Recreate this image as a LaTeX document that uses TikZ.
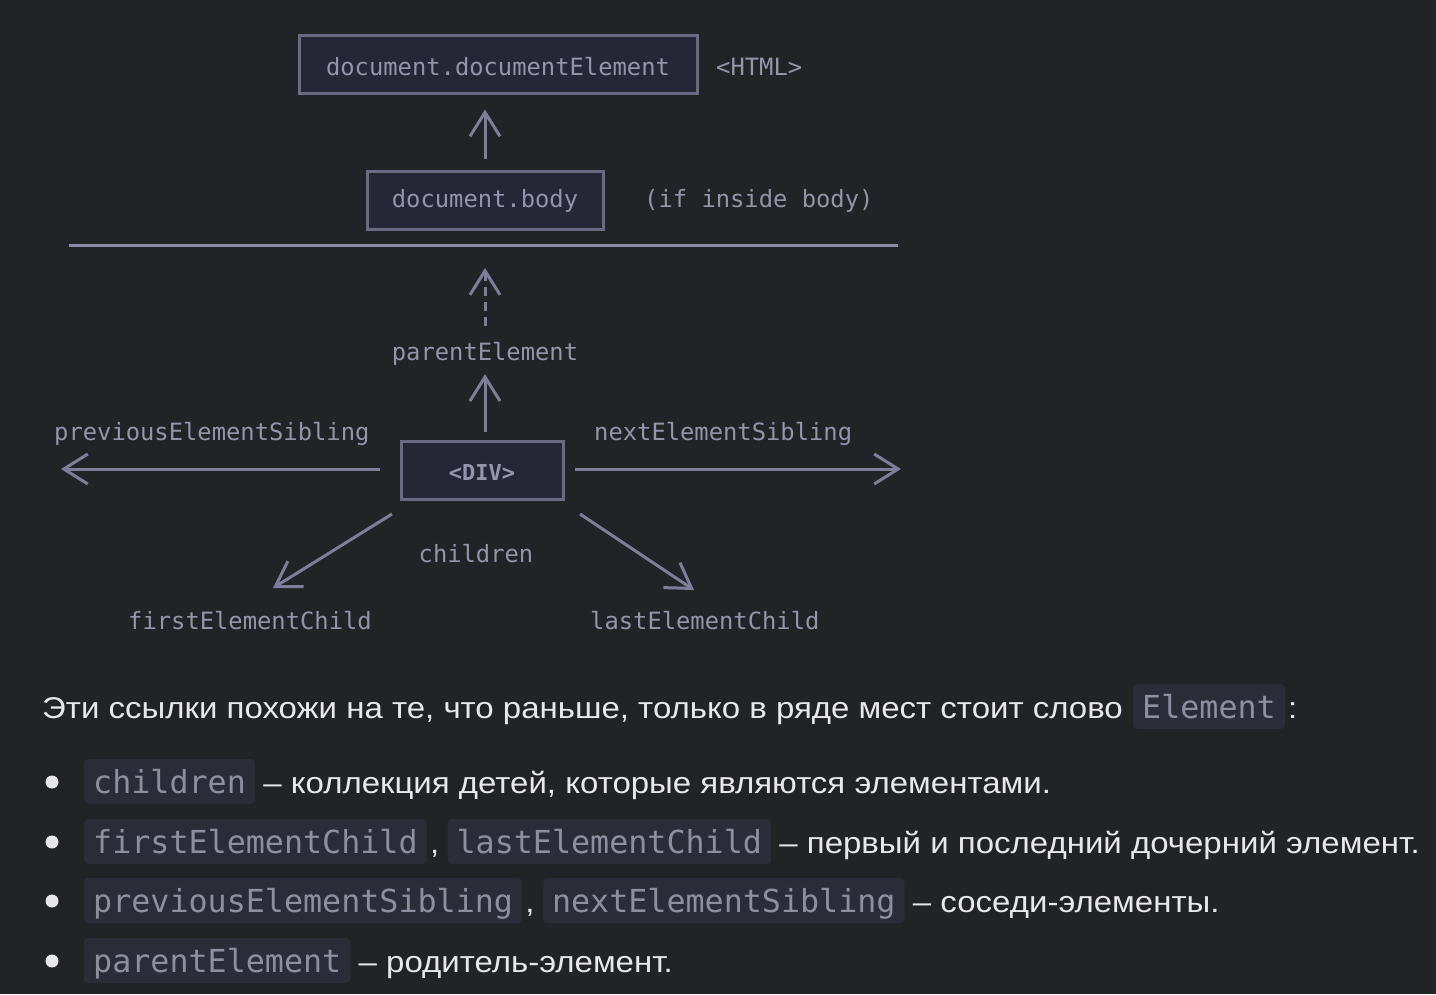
\documentclass[tikz,border=0pt]{standalone}
\usepackage{fontspec}
\setmainfont[FakeStretch=1.1]{Liberation Sans}
\newfontfamily\mono{DejaVu Sans Mono}
\usetikzlibrary{arrows.meta}
\definecolor{bg}{HTML}{222327}
\definecolor{boxfill}{HTML}{262736}
\definecolor{boxline}{HTML}{6A6A85}
\definecolor{arrowc}{HTML}{7E7E9C}
\definecolor{rulec}{HTML}{8A8AA6}
\definecolor{diagtext}{HTML}{9494AA}
\definecolor{maintext}{HTML}{E8E8EC}
\definecolor{codebg}{HTML}{2B2C38}
\definecolor{codefg}{HTML}{8E8E9E}
\tikzset{
  dbox/.style={draw=boxline, fill=boxfill, line width=3pt, inner sep=0pt, text=diagtext,
    font=\mono\fontsize{23.8}{28}\selectfont},
  dlabel/.style={inner sep=0pt, text=diagtext, font=\mono\fontsize{23.8}{28}\selectfont},
  darrow/.style={draw=arrowc, line width=3pt, -{Straight Barb[length=24pt,width=30pt,line width=3pt]}},
  codebox/.style={fill=codebg, rounded corners=4pt, inner xsep=9pt, inner ysep=0pt,
    text height=34pt, text depth=11pt, text=codefg, font=\mono\fontsize{31.7}{38}\selectfont},
  ptext/.style={inner sep=0pt, text=maintext, font=\fontsize{30}{36}\selectfont},
  bulletdot/.style={circle, fill=maintext, inner sep=0pt, minimum size=13pt}
}
\begin{document}
\begin{tikzpicture}[x=1pt,y=-1pt]
\fill[bg] (0,0) rectangle (1436,994);
\useasboundingbox (0,0) rectangle (1436,994);

% top part
\node[dbox, minimum width=398pt, minimum height=58pt, text height=22pt, text depth=0pt] (de) at (498,64) {document.documentElement};
\node[dlabel, anchor=base west] (html) at (716,75) {<HTML>};
\node[dbox, minimum width=236pt, minimum height=58pt, text height=14pt, text depth=0pt] (body) at (485,200) {document.body};
\node[dlabel, anchor=base west] (ifin) at (644,207) {(if inside body)};
\draw[darrow] ([yshift=11pt]body.north) -- ([yshift=-15pt]body.north |- de.south);

\coordinate (rl) at (69,245);
\coordinate (rr) at (898,245);
\draw[rulec, line width=3pt] (rl) -- (rr);

% DIV and neighbours
\node[dbox, minimum width=162pt, minimum height=58pt, text height=20pt, text depth=0pt,
  font=\mono\bfseries\fontsize{22}{26}\selectfont] (div) at (482,470) {<DIV>};
\node[dlabel, anchor=base] (pe) at (485,360) {parentElement};
\node[dlabel, anchor=base west] (prev) at (54,440) {previousElementSibling};
\node[dlabel, anchor=base west] (next) at (594,440) {nextElementSibling};
\node[dlabel, anchor=base] (ch) at (476,562) {children};
\node[dlabel, anchor=base west] (first) at (128,629) {firstElementChild};
\node[dlabel, anchor=base west] (last) at (590,629) {lastElementChild};

\coordinate (pes) at (485,326);
\coordinate (pee) at (485,268);
\draw[darrow, dash pattern=on 9pt off 6pt] (pes) -- (pee);
\draw[darrow] ([yshift=8pt]pe.south |- div.north) -- ([yshift=-9pt]pe.south);
\coordinate (ls) at (380,469);
\coordinate (le) at (61,469);
\draw[darrow] (ls) -- (le);
\coordinate (rs) at (575,469);
\coordinate (re) at (901,469);
\draw[darrow] (rs) -- (re);
\coordinate (dls) at (392,514);
\coordinate (dle) at (273,588);
\draw[darrow] (dls) -- (dle);
\coordinate (drs) at (580,514);
\coordinate (dre) at (694,590);
\draw[darrow] (drs) -- (dre);

% text below
\node[ptext, anchor=base west] (t0) at (42,718) {Эти ссылки похожи на те, что раньше, только в ряде мест стоит слово};
\node[codebox, anchor=base west] (c0) at ([xshift=10pt]t0.base east) {Element};
\node[ptext, anchor=base west] (t0b) at ([xshift=3pt]c0.base east) {:};

\node[bulletdot] (b1) at (52,782) {};
\node[codebox, anchor=base west] (c1) at (84,793) {children};
\node[ptext, anchor=base west] (t1) at ([xshift=8pt]c1.base east) {– коллекция детей, которые являются элементами.};

\node[bulletdot] (b2) at (52,842) {};
\node[codebox, anchor=base west] (c2a) at (84,853) {firstElementChild};
\node[ptext, anchor=base west] (k2) at ([xshift=3pt]c2a.base east) {,};
\node[codebox, anchor=base west] (c2b) at ([xshift=8pt]k2.base east) {lastElementChild};
\node[ptext, anchor=base west] (t2) at ([xshift=8pt]c2b.base east) {– первый и последний дочерний элемент.};

\node[bulletdot] (b3) at (52,901) {};
\node[codebox, anchor=base west] (c3a) at (84,912) {previousElementSibling};
\node[ptext, anchor=base west] (k3) at ([xshift=3pt]c3a.base east) {,};
\node[codebox, anchor=base west] (c3b) at ([xshift=8pt]k3.base east) {nextElementSibling};
\node[ptext, anchor=base west] (t3) at ([xshift=8pt]c3b.base east) {– соседи-элементы.};

\node[bulletdot] (b4) at (52,961) {};
\node[codebox, anchor=base west] (c4) at (84,972) {parentElement};
\node[ptext, anchor=base west] (t4) at ([xshift=8pt]c4.base east) {– родитель-элемент.};
\end{tikzpicture}
\end{document}
